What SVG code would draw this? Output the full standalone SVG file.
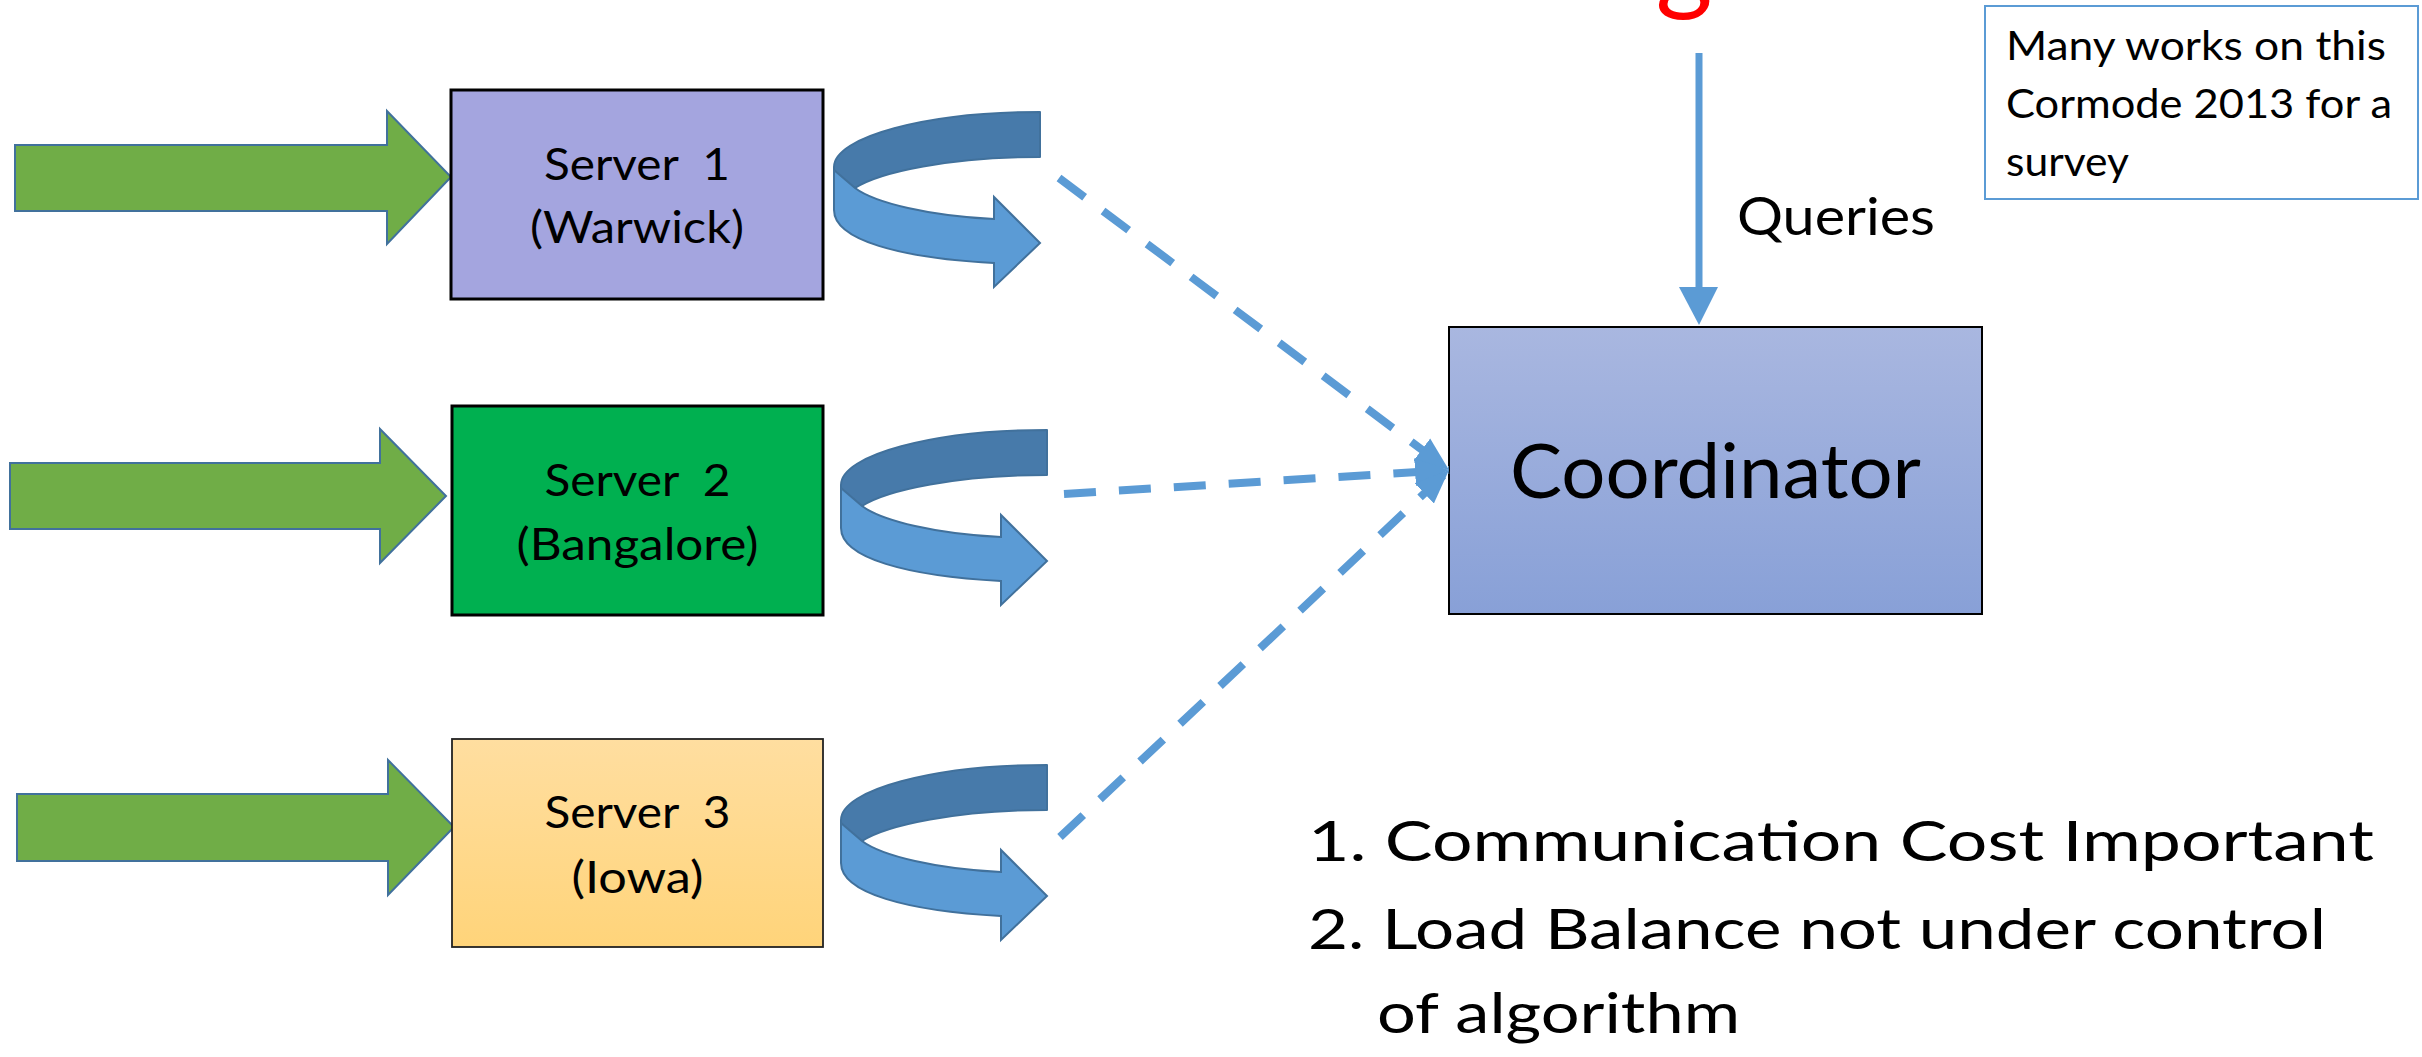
<svg xmlns="http://www.w3.org/2000/svg" xmlns:xlink="http://www.w3.org/1999/xlink" width="2422" height="1057" viewBox="0 0 2422 1057">
<style>
text { font-family: Lato, "Liberation Sans", sans-serif; fill: #000; }
.srv { font-size: 44px; text-anchor: middle; white-space: pre; }
.green { fill: #70AD47; stroke: #41719C; stroke-width: 2; }
.box { stroke: #000; stroke-width: 3; }
.dash { fill: none; stroke: #5B9BD5; stroke-width: 8; stroke-dasharray: 32 23; marker-end: url(#head); }
.dark { fill: #477AAA; stroke: #41719C; stroke-width: 2; stroke-linejoin: round; }
.light { fill: #5B9BD5; stroke: #41719C; stroke-width: 2; stroke-linejoin: miter; }
.list { font-size: 56px; }
.note { font-size: 41px; }
</style>
<defs>
<linearGradient id="gCoord" x1="0" y1="0" x2="0" y2="1">
<stop offset="0" stop-color="#A9B7E0"/>
<stop offset="1" stop-color="#88A0D7"/>
</linearGradient>
<linearGradient id="gIowa" x1="0" y1="0" x2="0" y2="1">
<stop offset="0" stop-color="#FFDEA0"/>
<stop offset="1" stop-color="#FFD47A"/>
</linearGradient>
<marker id="head" markerUnits="userSpaceOnUse" markerWidth="36" markerHeight="30" refX="34" refY="15" orient="auto">
<path d="M0,1 L34,15 L0,29 z" fill="#5B9BD5"/>
</marker>
<g id="curl">
<path class="dark" d="M1040,112 C926,112 834,137 834,167 L834,172 L855,188 C880,172 950,157 1040,157 Z"/>
<path class="light" d="M834,170 L834,210 C834,240 900,258 994,263 L994,287 L1040,243 L994,197 L994,219 C930,216 875,203 855,188 Z"/>
</g>
</defs>

<text x="1684" y="0" font-size="110" style="fill:#FF0000" text-anchor="middle">g</text>

<g id="input1"><polygon class="green" points="15,145 387,145 387,111 451,177 387,244 387,211 15,211"/></g>
<g id="input2"><polygon class="green" points="10,463 380,463 380,429 446,496 380,563 380,529 10,529"/></g>
<g id="input3"><polygon class="green" points="17,794 388,794 388,760 454,827 388,895 388,861 17,861"/></g>

<g id="server1">
<rect class="box" x="451" y="90" width="372" height="209" fill="#A4A5DF"/>
<text class="srv" x="637" y="180" xml:space="preserve" textLength="186" lengthAdjust="spacingAndGlyphs">Server  1</text>
<text class="srv" x="637" y="243" textLength="214" lengthAdjust="spacingAndGlyphs">(Warwick)</text>
</g>
<g id="server2">
<rect class="box" x="452" y="406" width="371" height="209" fill="#00B050"/>
<text class="srv" x="637.5" y="496" xml:space="preserve" textLength="186" lengthAdjust="spacingAndGlyphs">Server  2</text>
<text class="srv" x="637.5" y="560" textLength="242" lengthAdjust="spacingAndGlyphs">(Bangalore)</text>
</g>
<g id="server3">
<rect x="452" y="739" width="371" height="208" fill="url(#gIowa)" stroke="#222" stroke-width="1.8"/>
<text class="srv" x="637.5" y="828" xml:space="preserve" textLength="186" lengthAdjust="spacingAndGlyphs">Server  3</text>
<text class="srv" x="637.5" y="893" textLength="132" lengthAdjust="spacingAndGlyphs">(Iowa)</text>
</g>

<g id="loop1"><use xlink:href="#curl"/></g>
<g id="loop2"><use xlink:href="#curl" transform="translate(7,318)"/></g>
<g id="loop3"><use xlink:href="#curl" transform="translate(7,653)"/></g>

<g id="coordinator">
<rect x="1449" y="327" width="533" height="287" fill="url(#gCoord)" stroke="#000" stroke-width="2"/>
<text x="1715.5" y="498" font-size="76" text-anchor="middle" textLength="411" lengthAdjust="spacingAndGlyphs">Coordinator</text>
</g>

<g id="note">
<rect x="1985" y="6" width="433" height="193" fill="#FFFFFF" stroke="#5B9BD5" stroke-width="2"/>
<text class="note" x="2006" y="60" textLength="380" lengthAdjust="spacingAndGlyphs">Many works on this</text>
<text class="note" x="2006" y="118" textLength="386" lengthAdjust="spacingAndGlyphs">Cormode 2013 for a</text>
<text class="note" x="2006" y="176" textLength="123" lengthAdjust="spacingAndGlyphs">survey</text>
</g>

<g id="connectors">
<line class="dash" x1="1059" y1="178" x2="1449" y2="470"/>
<line class="dash" x1="1064" y1="494" x2="1449" y2="470"/>
<line class="dash" x1="1060" y1="837" x2="1449" y2="470"/>
<line x1="1699" y1="53" x2="1699" y2="290" stroke="#5B9BD5" stroke-width="7"/>
<polygon points="1679,287 1718,287 1699,325" fill="#5B9BD5"/>
<text x="1737" y="235" font-size="53" textLength="198" lengthAdjust="spacingAndGlyphs">Queries</text>
</g>

<g id="notes-list">
<text class="list" x="1308" y="861" textLength="1066" lengthAdjust="spacingAndGlyphs">1. Communication Cost Important</text>
<text class="list" x="1308" y="949" textLength="1018" lengthAdjust="spacingAndGlyphs">2. Load Balance not under control</text>
<text class="list" x="1377" y="1033" textLength="363" lengthAdjust="spacingAndGlyphs">of algorithm</text>
</g>
</svg>
